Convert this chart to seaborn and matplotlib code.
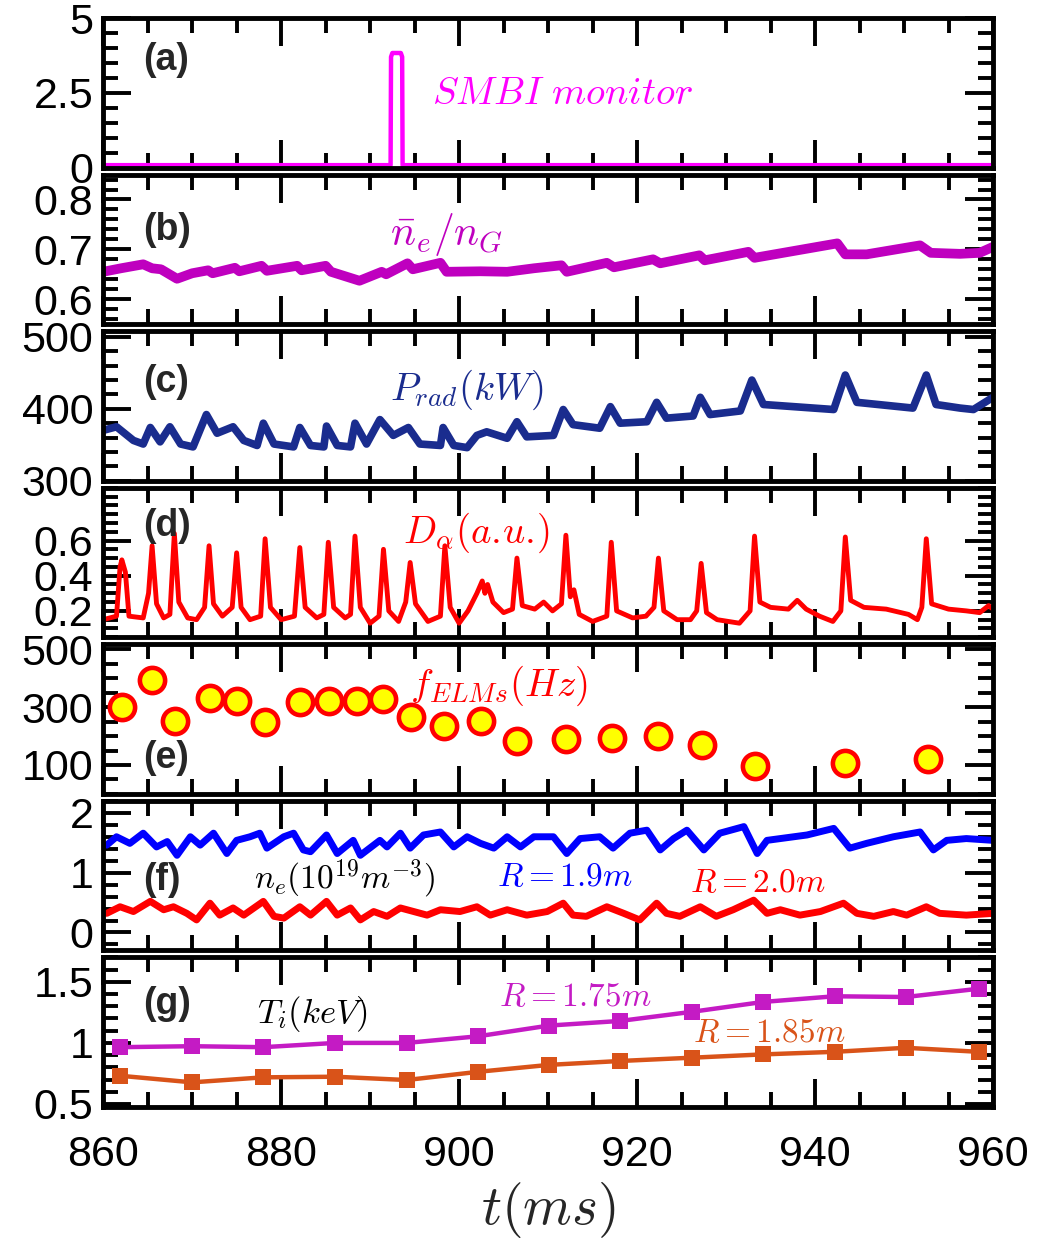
import matplotlib
matplotlib.use('Agg')
import matplotlib.pyplot as plt
from matplotlib.ticker import MultipleLocator
import seaborn as sns

# ---- data ----
# (a) SMBI monitor
smbi_t = [860.0, 892.3, 892.35, 892.5, 893.45, 893.6, 893.65, 960.0]
smbi_v = [0.08, 0.08, 3.7, 3.83, 3.83, 3.7, 0.08, 0.08]

# (b) line-averaged density / Greenwald density
ne_t = [860.0, 862.0, 864.5, 865.5, 866.5, 868.3, 870.0, 871.8, 872.3, 874.8, 875.3,
        877.8, 878.4, 881.8, 882.3, 885.0, 885.6, 888.8, 891.3, 891.8, 894.2, 894.8,
        897.9, 898.6, 902.4, 905.4, 908.4, 911.5, 912.1, 916.6, 917.4, 921.8, 922.6,
        927.0, 927.6, 932.5, 933.2, 942.5, 943.4, 945.8, 951.8, 953.0, 956.3, 958.5, 960.0]
ne_v = [0.655, 0.662, 0.670, 0.662, 0.660, 0.641, 0.652, 0.658, 0.652, 0.663, 0.656,
        0.667, 0.657, 0.667, 0.658, 0.667, 0.655, 0.637, 0.655, 0.650, 0.672, 0.660,
        0.673, 0.655, 0.656, 0.655, 0.662, 0.668, 0.655, 0.673, 0.664, 0.680, 0.672,
        0.688, 0.678, 0.695, 0.683, 0.712, 0.690, 0.690, 0.708, 0.693, 0.691, 0.693, 0.705]

# (c) radiated power (kW)
prad_t = [860.0, 861.5, 863.4, 864.5, 865.3, 866.4, 867.5, 868.7, 870.1, 871.6, 872.8,
          874.6, 875.8, 877.3, 878.0, 879.2, 881.4, 882.1, 883.3, 884.8, 885.1, 886.3,
          887.8, 888.3, 889.6, 891.1, 892.6, 894.3, 895.6, 897.9, 898.2, 899.4, 900.9,
          902.0, 903.1, 905.4, 906.5, 907.6, 910.6, 911.7, 912.8, 915.8, 917.0, 918.1,
          921.1, 922.2, 923.3, 926.3, 927.1, 928.2, 931.6, 932.9, 934.2, 942.1, 943.4,
          944.7, 951.0, 952.5, 953.6, 956.3, 957.8, 960.0]
prad_v = [370, 375, 356, 351, 374, 354, 375, 351, 347, 392, 366,
          375, 356, 349, 380, 351, 347, 374, 349, 347, 376, 349,
          347, 380, 351, 385, 363, 374, 351, 349, 374, 349, 346,
          363, 368, 359, 382, 361, 363, 399, 378, 373, 403, 380,
          382, 409, 387, 390, 416, 392, 397, 440, 406, 399, 447,
          409, 401, 447, 406, 401, 399, 416]

# (d) D-alpha (a.u.)
da_t = [860.0, 861.5, 861.9, 862.1, 862.5, 862.9, 864.5, 865.1, 865.5, 866.0, 866.8,
        867.5, 868.0, 868.5, 869.5, 870.5, 871.4, 871.9, 872.4, 873.4, 874.5, 875.0,
        875.5, 876.5, 877.7, 878.2, 878.8, 880.0, 881.5, 882.1, 882.7, 884.0, 884.8,
        885.3, 885.9, 887.2, 887.8, 888.3, 888.9, 890.0, 891.0, 891.5, 892.1, 893.2,
        894.0, 894.5, 895.1, 896.5, 897.9, 898.4, 899.0, 900.0, 901.0, 902.0, 902.6,
        902.9, 903.2, 903.8, 905.0, 906.0, 906.5, 907.1, 908.5, 909.5, 910.5, 911.5,
        912.0, 912.5, 912.9, 913.5, 915.0, 916.6, 917.1, 917.7, 919.5, 921.0, 921.9,
        922.4, 923.0, 924.5, 926.0, 926.7, 927.2, 927.8, 929.0, 931.5, 932.7, 933.2,
        933.8, 935.0, 937.0, 938.0, 939.0, 940.5, 942.0, 942.9, 943.4, 944.0, 945.5,
        948.0, 950.5, 951.5, 952.0, 952.5, 953.1, 955.0, 957.0, 958.5, 959.5, 960.0]
da_v = [0.15, 0.17, 0.45, 0.49, 0.42, 0.17, 0.16, 0.30, 0.57, 0.24, 0.16,
        0.18, 0.64, 0.25, 0.16, 0.15, 0.22, 0.57, 0.24, 0.17, 0.22, 0.53,
        0.22, 0.15, 0.17, 0.61, 0.22, 0.15, 0.17, 0.56, 0.22, 0.16, 0.18,
        0.59, 0.22, 0.16, 0.18, 0.625, 0.22, 0.13, 0.17, 0.55, 0.20, 0.14,
        0.25, 0.475, 0.24, 0.14, 0.17, 0.57, 0.22, 0.13, 0.20, 0.30, 0.37,
        0.30, 0.35, 0.25, 0.19, 0.21, 0.50, 0.23, 0.21, 0.25, 0.20, 0.24,
        0.63, 0.28, 0.32, 0.18, 0.14, 0.17, 0.59, 0.20, 0.16, 0.17, 0.22,
        0.50, 0.20, 0.15, 0.15, 0.20, 0.47, 0.19, 0.15, 0.13, 0.20, 0.625,
        0.25, 0.22, 0.21, 0.26, 0.21, 0.17, 0.14, 0.20, 0.62, 0.26, 0.22,
        0.21, 0.18, 0.15, 0.22, 0.61, 0.24, 0.21, 0.20, 0.19, 0.23, 0.21]

# (e) ELM frequency (Hz)
elm_t = [862.1, 865.5, 868.1, 872.0, 875.0, 878.2, 882.1, 885.4, 888.5, 891.5, 894.6,
         898.3, 902.5, 906.5, 912.0, 917.2, 922.4, 927.3, 933.2, 943.4, 952.7]
elm_f = [300, 393, 253, 331, 320, 248, 317, 323, 323, 329, 265,
         236, 253, 183, 189, 193, 201, 168, 96, 106, 120]

# (f) local density at R = 1.9 m and R = 2.0 m
n19_t = [860.4, 861.5, 863.0, 864.5, 866.0, 867.2, 868.3, 869.8, 870.9, 872.4, 873.9,
         875.0, 876.5, 877.6, 878.4, 880.3, 881.4, 882.5, 883.3, 885.1, 886.3, 888.1,
         888.9, 891.1, 891.9, 893.4, 894.5, 896.0, 897.9, 899.4, 900.9, 902.4, 903.9,
         905.4, 906.9, 908.4, 910.6, 912.1, 913.6, 915.8, 917.3, 919.2, 921.1, 922.6,
         924.1, 925.6, 927.5, 929.3, 932.0, 933.5, 934.6, 937.6, 939.1, 942.1, 943.9,
         945.8, 948.8, 951.8, 953.3, 954.8, 957.0, 960.0]
n19_v = [1.46, 1.60, 1.49, 1.66, 1.43, 1.52, 1.29, 1.60, 1.46, 1.66, 1.32,
         1.54, 1.60, 1.66, 1.41, 1.60, 1.66, 1.38, 1.35, 1.63, 1.32, 1.54,
         1.29, 1.54, 1.43, 1.66, 1.41, 1.63, 1.68, 1.43, 1.60, 1.49, 1.41,
         1.60, 1.43, 1.60, 1.60, 1.32, 1.57, 1.60, 1.41, 1.66, 1.71, 1.38,
         1.57, 1.71, 1.38, 1.66, 1.77, 1.32, 1.54, 1.60, 1.63, 1.74, 1.41,
         1.49, 1.60, 1.68, 1.38, 1.54, 1.57, 1.54]
n20_t = [860.4, 861.9, 863.4, 865.3, 866.8, 867.9, 869.4, 870.5, 872.0, 873.1, 874.6,
         875.8, 878.0, 879.2, 880.3, 882.1, 883.3, 885.1, 886.3, 887.8, 888.9, 890.4,
         891.9, 893.4, 894.9, 896.4, 897.9, 900.1, 902.0, 903.5, 905.4, 907.6, 909.9,
         911.7, 912.8, 914.3, 916.6, 918.5, 920.3, 922.2, 923.3, 924.8, 927.1, 928.9,
         930.8, 933.1, 934.6, 936.1, 938.3, 940.6, 943.2, 944.7, 946.6, 948.8, 950.3,
         952.5, 954.0, 957.0, 960.0]
n20_v = [0.32, 0.43, 0.35, 0.52, 0.38, 0.43, 0.32, 0.21, 0.49, 0.29, 0.41,
         0.29, 0.52, 0.27, 0.24, 0.43, 0.29, 0.52, 0.29, 0.41, 0.21, 0.35,
         0.27, 0.41, 0.35, 0.29, 0.38, 0.35, 0.43, 0.29, 0.38, 0.29, 0.35,
         0.49, 0.29, 0.27, 0.43, 0.32, 0.21, 0.49, 0.32, 0.27, 0.43, 0.27,
         0.38, 0.54, 0.32, 0.38, 0.29, 0.35, 0.49, 0.32, 0.27, 0.35, 0.29,
         0.43, 0.32, 0.29, 0.32]

# (g) ion temperature (keV)
ti_t = [861.9, 870.0, 878.0, 886.1, 894.1, 902.1, 910.1, 918.1, 926.2, 934.2, 942.2, 950.2, 958.4]
ti_175 = [0.965, 0.973, 0.965, 1.0, 1.0, 1.054, 1.142, 1.18, 1.255, 1.336, 1.382, 1.376, 1.444]
ti_185 = [0.731, 0.677, 0.718, 0.723, 0.696, 0.763, 0.82, 0.852, 0.879, 0.906, 0.927, 0.96, 0.927]

x_ticks = [860, 880, 900, 920, 940, 960]
y_ticks = [[0, 2.5, 5], [0.6, 0.7, 0.8], [300, 400, 500], [0.2, 0.4, 0.6],
           [100, 300, 500], [0, 1, 2], [0.5, 1, 1.5]]
y_labels = [['0', '2.5', '5'], ['0.6', '0.7', '0.8'], ['300', '400', '500'],
            ['0.2', '0.4', '0.6'], ['100', '300', '500'], ['0', '1', '2'],
            ['0.5', '1', '1.5']]
y_lims = [(0, 5), (0.55, 0.85), (300, 508), (0.05, 0.9), (0, 518), (-0.3, 2.2), (0.475, 1.7)]
y_minor = [0.5, 0.02, 20, 0.05, 50, 0.2, 0.1]
panel_tags = ['(a)', '(b)', '(c)', '(d)', '(e)', '(f)', '(g)']
tag_y = [0.72, 0.63, 0.66, 0.745, 0.24, 0.47, 0.69]

# ---- style ----
sns.set_style('ticks')
plt.rcParams['font.family'] = ['Liberation Sans', 'DejaVu Sans']
plt.rcParams['mathtext.fontset'] = 'cm'

fig, axes = plt.subplots(7, 1, sharex=True, figsize=(10.42, 12.42), dpi=100)
fig.subplots_adjust(left=0.099, right=0.953, top=1 - 18 / 1242, bottom=1 - 1107 / 1242,
                    hspace=0.047)

magenta = '#FF00FF'
purple = '#BF00BF'
navy = '#1A2C8E'
red = '#FF0000'
blue = '#0000FF'
pink = '#C41BC4'
orange = '#D95319'

ax = axes[0]
sns.lineplot(x=smbi_t, y=smbi_v, ax=ax, color=magenta, lw=3.2, estimator=None, sort=False)
ax.text(0.37, 0.49, r'$SMBI\ monitor$', transform=ax.transAxes, color=magenta,
        fontsize=28, ha='left', va='center')

ax = axes[1]
sns.lineplot(x=ne_t, y=ne_v, ax=ax, color=purple, lw=7, estimator=None, sort=False)
ax.text(0.322, 0.60, r'$\bar{n}_e/n_G$', transform=ax.transAxes, color=purple,
        fontsize=30, ha='left', va='center')

ax = axes[2]
sns.lineplot(x=prad_t, y=prad_v, ax=ax, color=navy, lw=5.5, estimator=None, sort=False)
ax.text(0.322, 0.61, r'$P_{rad}(kW)$', transform=ax.transAxes, color=navy,
        fontsize=28, ha='left', va='center')

ax = axes[3]
sns.lineplot(x=da_t, y=da_v, ax=ax, color=red, lw=3.5, estimator=None, sort=False)
ax.text(0.337, 0.70, r'$D_\alpha(a.\!u.\!)$', transform=ax.transAxes, color=red,
        fontsize=28, ha='left', va='center')

ax = axes[4]
sns.scatterplot(x=elm_t, y=elm_f, ax=ax, color='#FFFF00', edgecolor=red,
                linewidth=3.3, s=330, zorder=3, clip_on=False)
ax.text(0.345, 0.72, r'$f_{ELMs}(Hz)$', transform=ax.transAxes, color=red,
        fontsize=28, ha='left', va='center')

ax = axes[5]
sns.lineplot(x=n19_t, y=n19_v, ax=ax, color=blue, lw=5, estimator=None, sort=False)
sns.lineplot(x=n20_t, y=n20_v, ax=ax, color=red, lw=5, estimator=None, sort=False)
ax.text(0.169, 0.48, r'$n_e(10^{19}m^{-3})$', transform=ax.transAxes, color='black',
        fontsize=24, ha='left', va='center')
ax.text(0.443, 0.49, r'$R=1.9m$', transform=ax.transAxes, color=blue,
        fontsize=24, ha='left', va='center')
ax.text(0.66, 0.45, r'$R=2.0m$', transform=ax.transAxes, color=red,
        fontsize=24, ha='left', va='center')

ax = axes[6]
sns.lineplot(x=ti_t, y=ti_175, ax=ax, color=pink, lw=3.2, marker='s', markersize=12,
             markeredgewidth=0, estimator=None, sort=False)
sns.lineplot(x=ti_t, y=ti_185, ax=ax, color=orange, lw=3.2, marker='s', markersize=12,
             markeredgewidth=0, estimator=None, sort=False)
ax.text(0.173, 0.62, r'$T_i(keV)$', transform=ax.transAxes, color='black',
        fontsize=25, ha='left', va='center')
ax.text(0.445, 0.73, r'$R=1.75m$', transform=ax.transAxes, color=pink,
        fontsize=24, ha='left', va='center')
ax.text(0.663, 0.49, r'$R=1.85m$', transform=ax.transAxes, color=orange,
        fontsize=24, ha='left', va='center')

for i, ax in enumerate(axes):
    ax.set_xlim(860, 960)
    ax.set_ylim(*y_lims[i])
    ax.set_yticks(y_ticks[i], y_labels[i])
    ax.yaxis.set_minor_locator(MultipleLocator(y_minor[i]))
    ax.set_xticks(x_ticks)
    ax.xaxis.set_minor_locator(MultipleLocator(5))
    ax.tick_params(which='both', direction='in', top=True, right=True, width=2.8,
                   labelsize=31, colors='black')
    ax.tick_params(which='major', length=20, pad=7)
    ax.tick_params(which='minor', length=11)
    ax.tick_params(axis='x', pad=20)
    for sp in ax.spines.values():
        sp.set_linewidth(3.5)
        sp.set_color('black')
    ax.set_ylabel('')
    ax.text(0.045, tag_y[i], panel_tags[i], transform=ax.transAxes, fontsize=27,
            fontweight='bold', ha='left', va='center')

axes[-1].set_xlabel(r'$t(ms)$', fontsize=40, labelpad=4)

fig.savefig('out.png', dpi=100)
